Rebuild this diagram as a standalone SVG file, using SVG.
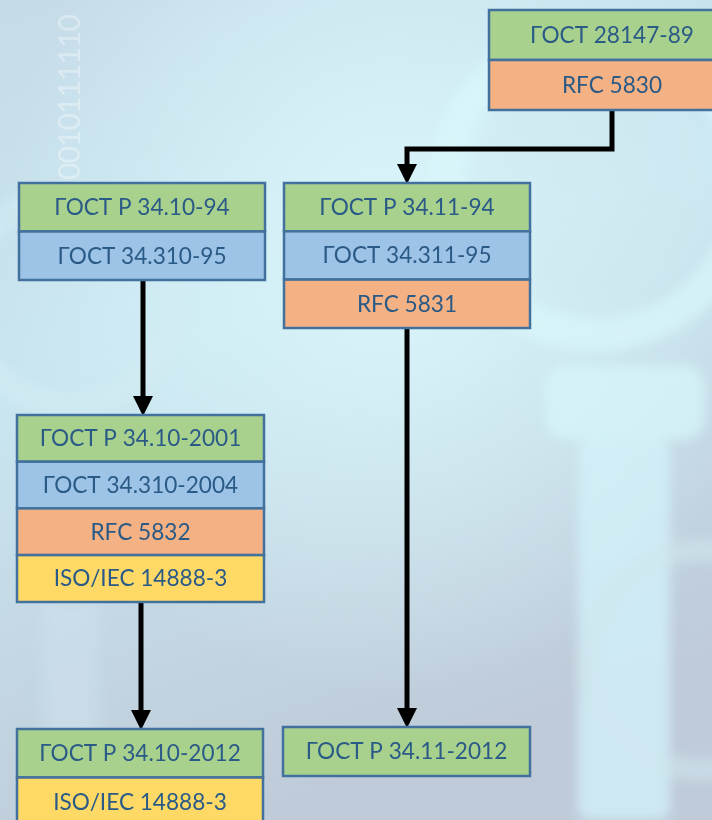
<svg xmlns="http://www.w3.org/2000/svg" width="712" height="820" viewBox="0 0 712 820">
  <defs>
    <linearGradient id="bg" x1="0" y1="0" x2="0.3" y2="1">
      <stop offset="0" stop-color="#c6dbe8"/>
      <stop offset="0.45" stop-color="#c9e6f0"/>
      <stop offset="1" stop-color="#bfcbd9"/>
    </linearGradient>
    <radialGradient id="glow" cx="0.55" cy="0.3" r="0.55">
      <stop offset="0" stop-color="#dcf8fc" stop-opacity="0.9"/>
      <stop offset="1" stop-color="#dcf8fc" stop-opacity="0"/>
    </radialGradient>
    <filter id="soft" x="-20%" y="-20%" width="140%" height="140%">
      <feGaussianBlur stdDeviation="6"/>
    </filter>
    <marker id="arrow" markerUnits="userSpaceOnUse" markerWidth="20" markerHeight="20"
            viewBox="0 0 18 18" refX="8" refY="9" orient="auto">
      <path d="M0,0 L18,9 L0,18 Z" fill="#000"/>
    </marker>
    <style>
      .cell { stroke: #41719c; stroke-width: 2.5; }
      .green { fill: #a9d18e; }
      .blue { fill: #9dc3e6; }
      .orange { fill: #f4b183; }
      .yellow { fill: #ffd966; }
      .label { font-family: Lato, "Liberation Sans", sans-serif; font-size: 22.6px; fill: #2a5a86; text-anchor: middle; }
      .wire { fill: none; stroke: #000; stroke-width: 5; }
    </style>
  </defs>

  <!-- backdrop: soft magnifier and key shapes -->
  <g id="backdrop">
    <rect width="712" height="820" fill="url(#bg)"/>
    <rect width="712" height="820" fill="url(#glow)"/>
    <g filter="url(#soft)" opacity="0.75">
      <circle cx="595" cy="185" r="150" fill="none" stroke="#d8f6fb" stroke-width="34"/>
      <circle cx="595" cy="185" r="120" fill="#cfe9f2" opacity="0.5"/>
      <rect x="545" y="365" width="160" height="75" rx="22" fill="#d6f6fb"/>
      <rect x="578" y="440" width="92" height="380" rx="10" fill="#d3f3fa"/>
      <circle cx="70" cy="300" r="105" fill="none" stroke="#d4ecf4" stroke-width="26" opacity="0.7"/>
      <circle cx="700" cy="660" r="110" fill="none" stroke="#d4eef5" stroke-width="22" opacity="0.6"/>
      <rect x="40" y="600" width="60" height="220" rx="8" fill="#cfe3ee" opacity="0.6"/>
    </g>
    <text x="80" y="180" transform="rotate(-90 80 180)" font-family="Lato, 'Liberation Sans', sans-serif"
          font-size="30" textLength="166" lengthAdjust="spacing"
          fill="#ffffff" fill-opacity="0.35">0010111110</text>
  </g>

  <!-- connectors -->
  <g id="connectors">
    <path class="wire" d="M612,110 V149 H407 V173" marker-end="url(#arrow)"/>
    <path class="wire" d="M143,280 V405" marker-end="url(#arrow)"/>
    <path class="wire" d="M141,602 V719" marker-end="url(#arrow)"/>
    <path class="wire" d="M407,328 V717" marker-end="url(#arrow)"/>
  </g>

  <!-- ГОСТ 28147-89 / RFC 5830 -->
  <g id="node-28147">
    <rect class="cell green" x="489" y="10" width="246" height="50"/>
    <rect class="cell orange" x="489" y="60" width="246" height="50"/>
    <text class="label" x="612" y="43">ГОСТ 28147-89</text>
    <text class="label" x="612" y="93">RFC 5830</text>
  </g>

  <!-- ГОСТ Р 34.10-94 -->
  <g id="node-3410-94">
    <rect class="cell green" x="19" y="183" width="246" height="48.5"/>
    <rect class="cell blue" x="19" y="231.5" width="246" height="48.5"/>
    <text class="label" x="142" y="215">ГОСТ Р 34.10-94</text>
    <text class="label" x="142" y="264">ГОСТ 34.310-95</text>
  </g>

  <!-- ГОСТ Р 34.11-94 -->
  <g id="node-3411-94">
    <rect class="cell green" x="284" y="183" width="246" height="48.3"/>
    <rect class="cell blue" x="284" y="231.3" width="246" height="48.3"/>
    <rect class="cell orange" x="284" y="279.6" width="246" height="48.4"/>
    <text class="label" x="407" y="215">ГОСТ Р 34.11-94</text>
    <text class="label" x="407" y="263">ГОСТ 34.311-95</text>
    <text class="label" x="407" y="312">RFC 5831</text>
  </g>

  <!-- ГОСТ Р 34.10-2001 -->
  <g id="node-3410-2001">
    <rect class="cell green" x="17" y="415" width="247" height="46.7"/>
    <rect class="cell blue" x="17" y="461.7" width="247" height="46.7"/>
    <rect class="cell orange" x="17" y="508.4" width="247" height="46.7"/>
    <rect class="cell yellow" x="17" y="555.1" width="247" height="46.9"/>
    <text class="label" x="140.5" y="446">ГОСТ Р 34.10-2001</text>
    <text class="label" x="140.5" y="493">ГОСТ 34.310-2004</text>
    <text class="label" x="140.5" y="539.5">RFC 5832</text>
    <text class="label" x="140.5" y="586">ISO/IEC 14888-3</text>
  </g>

  <!-- ГОСТ Р 34.10-2012 -->
  <g id="node-3410-2012">
    <rect class="cell green" x="17" y="729" width="246" height="48.5"/>
    <rect class="cell yellow" x="17" y="777.5" width="246" height="50"/>
    <text class="label" x="140" y="761">ГОСТ Р 34.10-2012</text>
    <text class="label" x="140" y="810">ISO/IEC 14888-3</text>
  </g>

  <!-- ГОСТ Р 34.11-2012 -->
  <g id="node-3411-2012">
    <rect class="cell green" x="283" y="727" width="247" height="49"/>
    <text class="label" x="406.5" y="759">ГОСТ Р 34.11-2012</text>
  </g>
</svg>
